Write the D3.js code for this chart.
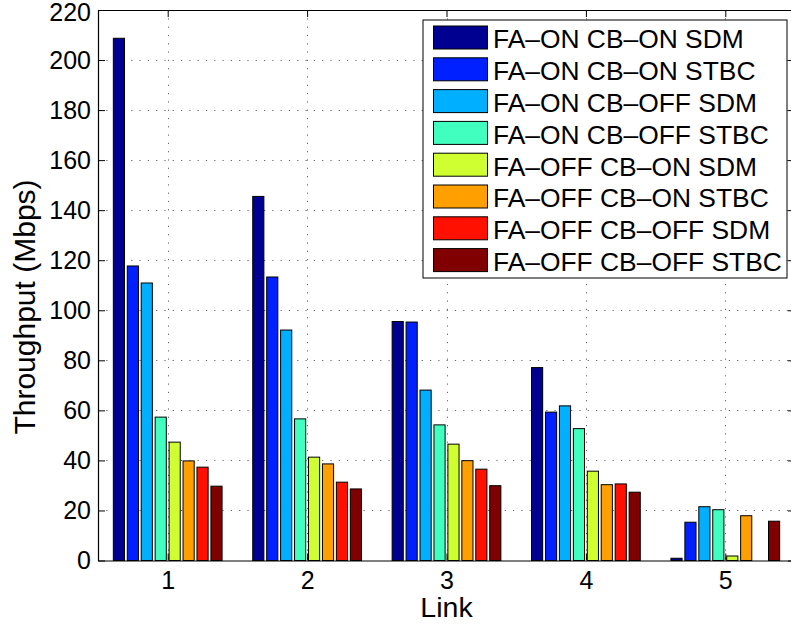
<!DOCTYPE html>
<html>
<head>
<meta charset="utf-8">
<script src="https://cdn.jsdelivr.net/npm/d3@7"></script>
<style>
  html, body { margin: 0; padding: 0; background: #fff; }
  svg { display: block; font-family: "Liberation Sans", Arial, Helvetica, sans-serif; }
</style>
</head>
<body>
<svg id="chart" width="791" height="630"></svg>
<script>
// Links on the x axis
const links = [1, 2, 3, 4, 5];

// Configuration names (legend order)
const seriesNames = [
  "FA\u2013ON CB\u2013ON SDM",
  "FA\u2013ON CB\u2013ON STBC",
  "FA\u2013ON CB\u2013OFF SDM",
  "FA\u2013ON CB\u2013OFF STBC",
  "FA\u2013OFF CB\u2013ON SDM",
  "FA\u2013OFF CB\u2013ON STBC",
  "FA\u2013OFF CB\u2013OFF SDM",
  "FA\u2013OFF CB\u2013OFF STBC"
];

// Throughput (Mbps) per link, one array per configuration
const faOnCbOnSdm    = [208.7, 145.5, 95.5, 77.1, 0.9];
const faOnCbOnStbc   = [117.7, 113.3, 95.3, 59.3, 15.3];
const faOnCbOffSdm   = [110.9, 92.1, 68.1, 61.8, 21.5];
const faOnCbOffStbc  = [57.3, 56.6, 54.2, 52.7, 20.3];
const faOffCbOnSdm   = [47.3, 41.3, 46.5, 35.7, 1.8];
const faOffCbOnStbc  = [39.8, 38.6, 39.9, 30.3, 17.9];
const faOffCbOffSdm  = [37.3, 31.3, 36.5, 30.6, 0];
const faOffCbOffStbc = [29.7, 28.6, 29.9, 27.3, 15.7];

const seriesValues = [faOnCbOnSdm, faOnCbOnStbc, faOnCbOffSdm, faOnCbOffStbc,
                      faOffCbOnSdm, faOffCbOnStbc, faOffCbOffSdm, faOffCbOffStbc];

// Jet-style colours
const seriesColors = ["#000090", "#0020FF", "#00AFFF", "#40FFBF",
                      "#CFFF30", "#FF9F00", "#FF1000", "#800000"];

const yTicks = [0, 20, 40, 60, 80, 100, 120, 140, 160, 180, 200, 220];

const svg = d3.select("#chart");
const plot = { left: 98, right: 795, top: 10, bottom: 560.5 };

const x = d3.scaleLinear().domain([0.5, 5.5]).range([plot.left, plot.right]);
const y = d3.scaleLinear().domain([0, 220]).range([plot.bottom, plot.top]);

const groupWidth = 0.8;
const n = seriesNames.length;
const slot = groupWidth / n;
const barWidth = slot * 0.8;

// dotted grid
const grid = svg.append("g").attr("stroke", "#666").attr("stroke-width", 1)
  .attr("stroke-dasharray", "1.2,7.1");
grid.selectAll("line.h").data(yTicks.filter(d => d > 0 && d < 220)).join("line")
  .attr("class", "h")
  .attr("x1", plot.left).attr("x2", plot.right)
  .attr("y1", d => Math.round(y(d)) + 0.5).attr("y2", d => Math.round(y(d)) + 0.5);
grid.selectAll("line.v").data(links).join("line")
  .attr("class", "v")
  .attr("x1", d => Math.round(x(d)) + 0.5).attr("x2", d => Math.round(x(d)) + 0.5)
  .attr("y1", plot.top).attr("y2", plot.bottom);

// bars
const bars = svg.append("g");
seriesValues.forEach((vals, j) => {
  bars.append("g")
    .attr("fill", seriesColors[j])
    .attr("stroke", "#000")
    .attr("stroke-width", 1)
    .selectAll("rect")
    .data(vals.map((v, i) => ({ link: links[i], v })))
    .join("rect")
    .attr("x", d => x(d.link + (j - (n - 1) / 2) * slot - barWidth / 2))
    .attr("width", x(barWidth) - x(0))
    .attr("y", d => y(d.v))
    .attr("height", d => y(0) - y(d.v));
});

// axes with inward ticks
const tickLen = 7;
const fmt = d3.format("d");
const axisL = svg.append("g").attr("transform", `translate(${plot.left},0)`)
  .call(d3.axisLeft(y).tickValues(yTicks).tickFormat(fmt).tickSize(-tickLen).tickSizeOuter(0).tickPadding(7));
const axisR = svg.append("g").attr("transform", `translate(${plot.right},0)`)
  .call(d3.axisRight(y).tickValues(yTicks).tickFormat("").tickSize(-tickLen).tickSizeOuter(0));
const axisB = svg.append("g").attr("transform", `translate(0,${plot.bottom})`)
  .call(d3.axisBottom(x).tickValues(links).tickFormat(fmt).tickSize(-tickLen).tickSizeOuter(0).tickPadding(11));
const axisT = svg.append("g").attr("transform", `translate(0,${plot.top})`)
  .call(d3.axisTop(x).tickValues(links).tickFormat("").tickSize(-tickLen).tickSizeOuter(0));

[axisL, axisR, axisB, axisT].forEach(g => {
  g.selectAll("path.domain").attr("stroke", "#000").attr("stroke-width", 1.2);
  g.selectAll(".tick line").attr("stroke", "#000").attr("stroke-width", 1);
  g.selectAll("text").attr("font-size", 25).attr("fill", "#000")
    .attr("font-family", "Liberation Sans, Arial, sans-serif");
});
// keep the topmost tick label inside the canvas
axisL.selectAll(".tick text").filter(d => d === 220).attr("dy", "0.42em");

// axis labels
svg.append("text")
  .attr("x", x(3)).attr("y", 617)
  .attr("text-anchor", "middle")
  .attr("font-size", 28.5)
  .text("Link");

svg.append("text")
  .attr("transform", "translate(35,307) rotate(-90)")
  .attr("text-anchor", "middle")
  .attr("font-size", 30)
  .text("Throughput (Mbps)");

// legend
const legend = svg.append("g");
legend.append("rect")
  .attr("x", 423).attr("y", 20).attr("width", 364).attr("height", 258)
  .attr("fill", "#fff").attr("stroke", "#000").attr("stroke-width", 1);
const rowH = 31.8;
seriesNames.forEach((name, j) => {
  const ry = 26 + j * rowH;
  legend.append("rect")
    .attr("x", 433.5).attr("y", ry).attr("width", 54).attr("height", 23)
    .attr("fill", seriesColors[j]).attr("stroke", "#000").attr("stroke-width", 1);
  legend.append("text")
    .attr("x", 493).attr("y", ry + 22.3)
    .attr("font-size", 26.4)
    .text(name);
});
</script>
</body>
</html>
